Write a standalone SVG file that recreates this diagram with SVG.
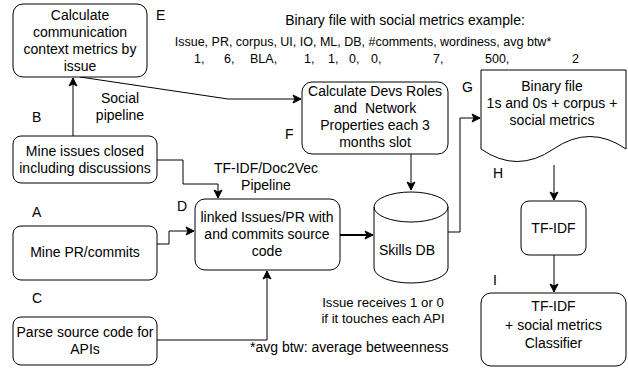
<svg xmlns="http://www.w3.org/2000/svg" width="628" height="368" viewBox="0 0 628 368">
<style>
text{font-family:"Liberation Sans",Arial,sans-serif;font-size:14px;fill:#000;}
.c{text-anchor:middle;}
.s{font-size:12.5px;}
.m{font-size:13.2px;}
.box{fill:#fff;stroke:#000;stroke-width:1;}
.ln{fill:none;stroke:#000;stroke-width:1;}
</style>
<defs>
<marker id="ar" markerWidth="10" markerHeight="10" refX="9" refY="5" orient="auto" markerUnits="userSpaceOnUse">
<path d="M1,1 L9,5 L1,9 L3,5 Z" fill="#000" stroke="#000" stroke-width="1"/>
</marker>
</defs>
<rect width="628" height="368" fill="#fff"/>

<g id="connectors">
<path class="ln" d="M73,136 V78" marker-end="url(#ar)"/>
<path class="ln" d="M80,77 L228,99 H301" marker-end="url(#ar)"/>
<path class="ln" d="M157,160 H183 V184 H218 V198" marker-end="url(#ar)"/>
<path class="ln" d="M157,244 H169 V231 H194" marker-end="url(#ar)"/>
<path class="ln" d="M157,340 H267 V271" marker-end="url(#ar)"/>
<path class="ln" d="M340,235 H373" style="stroke-width:2" marker-end="url(#ar)"/>
<path class="ln" d="M411,154 V190" marker-end="url(#ar)"/>
<path class="ln" d="M448,232 H460 V118 H480" marker-end="url(#ar)"/>
<path class="ln" d="M554,165 V200" marker-end="url(#ar)"/>
<path class="ln" d="M554,255 V292" marker-end="url(#ar)"/>
</g>

<g id="E">
<rect class="box" x="13" y="4" width="134" height="73" rx="10"/>
<text class="c" x="80" y="20">Calculate</text>
<text class="c" x="80" y="37">communication</text>
<text class="c" x="80" y="54">context metrics by</text>
<text class="c" x="80" y="71">issue</text>
</g>
<text x="156" y="20">E</text>

<text class="c" x="120" y="103">Social</text>
<text class="c" x="120" y="120">pipeline</text>

<g id="B">
<rect class="box" x="13" y="136" width="144" height="47" rx="8"/>
<text class="c" x="85" y="156">Mine issues closed</text>
<text class="c" x="85" y="173">including discussions</text>
</g>
<text x="32" y="122">B</text>

<text class="c" x="266" y="173">TF-IDF/Doc2Vec</text>
<text class="c" x="266" y="190">Pipeline</text>

<g id="A">
<rect class="box" x="13" y="226" width="144" height="54" rx="8"/>
<text class="c" x="85" y="257">Mine PR/commits</text>
</g>
<text x="32" y="217">A</text>

<g id="C">
<rect class="box" x="13" y="317" width="144" height="48" rx="8"/>
<text class="c" x="85" y="337">Parse source code for</text>
<text class="c" x="85" y="354">APIs</text>
</g>
<text x="32" y="303">C</text>

<g id="D">
<rect class="box" x="195" y="199" width="145" height="71" rx="10"/>
<text class="c" x="267" y="222">linked Issues/PR with</text>
<text class="c" x="267" y="239">and commits source</text>
<text class="c" x="267" y="256">code</text>
</g>
<text x="177" y="211">D</text>

<g id="F">
<rect class="box" x="302" y="82" width="146" height="72" rx="10"/>
<text class="c" x="375" y="96">Calculate Devs Roles</text>
<text class="c" x="375" y="113" xml:space="preserve">and  Network</text>
<text class="c" x="375" y="130">Properties each 3</text>
<text class="c" x="375" y="147">months slot</text>
</g>
<text x="285" y="139">F</text>

<g id="SkillsDB">
<path class="box" d="M374,207 A37,15 0 0 1 448,207 V268 A37,15 0 0 1 374,268 Z"/>
<path class="ln" d="M374,207 A37,15 0 0 0 448,207"/>
<text class="c" x="407" y="255">Skills DB</text>
</g>

<g id="G">
<path class="box" d="M481,70 H626 V149 Q590,124 553.5,149 Q517,174 481,149 Z"/>
<text class="c" x="552" y="91">Binary file</text>
<text class="c" x="552" y="108">1s and 0s + corpus +</text>
<text class="c" x="552" y="125">social metrics</text>
</g>
<text x="462" y="92">G</text>

<g id="H">
<rect class="box" x="521" y="201" width="65" height="54" rx="8"/>
<text class="c" x="553.5" y="233">TF-IDF</text>
</g>
<text x="493" y="178">H</text>

<g id="I">
<rect class="box" x="481" y="293" width="145" height="73" rx="10"/>
<text class="c" x="553.5" y="311">TF-IDF</text>
<text class="c" x="553.5" y="330">+ social metrics</text>
<text class="c" x="553.5" y="348">Classifier</text>
</g>
<text x="493" y="285">I</text>

<text class="c" x="405" y="25">Binary file with social metrics example:</text>
<text class="c s" x="363" y="46">Issue, PR, corpus, UI, IO, ML, DB, #comments, wordiness, avg btw*</text>
<text class="s" y="63"><tspan x="194">1,</tspan><tspan x="224">6,</tspan><tspan x="250">BLA,</tspan><tspan x="304">1,</tspan><tspan x="328">1,</tspan><tspan x="349">0,</tspan><tspan x="371">0,</tspan><tspan x="433">7,</tspan><tspan x="485">500,</tspan><tspan x="572">2</tspan></text>

<text class="c m" x="383" y="307">Issue receives 1 or 0</text>
<text class="c m" x="383" y="323">if it touches each API</text>
<text x="250" y="352">*avg btw: average betweenness</text>
</svg>
